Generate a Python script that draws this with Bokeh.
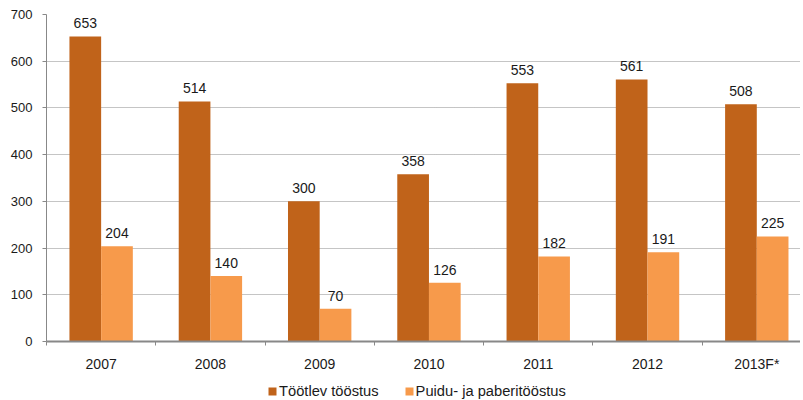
import numpy as np
from bokeh.plotting import figure
from bokeh.layouts import column
from bokeh.models import (ColumnDataSource, Range1d, FixedTicker, Legend, LegendItem)
from bokeh.transform import dodge
from bokeh.core.properties import value
from bokeh.embed import file_html
from bokeh.resources import INLINE

years = ["2007", "2008", "2009", "2010", "2011", "2012", "2013F*"]
tootlev = [653, 514, 300, 358, 553, 561, 508]
puidu = [204, 140, 70, 126, 182, 191, 225]
series_names = ["Töötlev tööstus", "Puidu- ja paberitööstus"]
y_ticks = [0, 100, 200, 300, 400, 500, 600, 700]

FONT = "Liberation Sans"
DARK = "#C0631A"
LIGHT = "#F79A4B"
TXT = "#1a1a1a"

xpos = np.arange(len(years)) + 0.5
src = ColumnDataSource(dict(
    x=xpos, year=years,
    a=tootlev, b=puidu,
    at=[str(v) for v in tootlev], bt=[str(v) for v in puidu],
))

p = figure(width=800, height=374, output_backend="svg", toolbar_location=None,
           x_range=Range1d(0, 6.9), y_range=Range1d(0, 700),
           min_border_left=46, min_border_right=0, min_border_top=14,
           min_border_bottom=33)
p.outline_line_color = None
p.background_fill_color = "white"

bw = 0.29
off = 0.145
r1 = p.vbar(x=dodge("x", -off), top="a", width=bw, source=src,
            fill_color=DARK, line_color=None)
r2 = p.vbar(x=dodge("x", off), top="b", width=bw, source=src,
            fill_color=LIGHT, line_color=None)

p.text(x=dodge("x", -off), y="a", text="at", source=src,
       text_align="center", text_baseline="bottom", y_offset=-8,
       text_font=value(FONT), text_font_size="14px", text_color=TXT)
p.text(x=dodge("x", off), y="b", text="bt", source=src,
       text_align="center", text_baseline="bottom", y_offset=-8,
       text_font=value(FONT), text_font_size="14px", text_color=TXT)

# x axis
xa = p.xaxis[0]
xa.ticker = FixedTicker(ticks=list(xpos), minor_ticks=list(range(len(years) + 1)))
xa.major_label_overrides = {float(x): y for x, y in zip(xpos, years)}
xa.major_tick_line_color = None
xa.major_tick_out = 0
xa.major_tick_in = 0
xa.minor_tick_out = 4
xa.minor_tick_in = 0
xa.minor_tick_line_color = "#888888"
xa.axis_line_color = "#888888"
xa.axis_line_width = 2
xa.major_label_standoff = 10
xa.major_label_text_font = FONT
xa.major_label_text_font_size = "14px"
xa.major_label_text_color = TXT

# y axis
ya = p.yaxis[0]
ya.ticker = FixedTicker(ticks=y_ticks)
ya.axis_line_color = "#888888"
ya.major_tick_line_color = "#888888"
ya.major_tick_out = 4
ya.major_tick_in = 0
ya.minor_tick_line_color = None
ya.major_label_standoff = 10
ya.major_label_text_font = FONT
ya.major_label_text_font_size = "13px"
ya.major_label_text_color = TXT

p.xgrid.grid_line_color = None
p.ygrid.ticker = FixedTicker(ticks=y_ticks[1:])
p.ygrid.grid_line_color = "#8a8a8a"
p.ygrid.grid_line_dash = "1 1"
p.ygrid.grid_line_width = 1

# legend in a separate strip below the chart
lg = figure(width=800, height=25, output_backend="svg", toolbar_location=None,
            x_range=Range1d(0, 1), y_range=Range1d(0, 1),
            x_axis_location=None, y_axis_location=None,
            min_border_left=0, min_border_right=0, min_border_top=0,
            min_border_bottom=0)
lg.grid.visible = False
lg.outline_line_color = None
swatch = ColumnDataSource(dict(x=[-50], top=[-50], bottom=[-51]))
lr1 = lg.vbar(x="x", top="top", bottom="bottom", width=0.01, source=swatch,
              fill_color=DARK, line_color=None)
lr2 = lg.vbar(x="x", top="top", bottom="bottom", width=0.01, source=swatch,
              fill_color=LIGHT, line_color=None)

legend = Legend(items=[LegendItem(label=series_names[0], renderers=[lr1]),
                       LegendItem(label=series_names[1], renderers=[lr2])],
                orientation="horizontal", location=(221, 0),
                glyph_width=10, glyph_height=10, label_standoff=2, spacing=25,
                padding=0, margin=0, border_line_color=None,
                background_fill_alpha=0,
                label_text_font=FONT, label_text_font_size="14.7px",
                label_text_color=TXT)
lg.add_layout(legend, "center")

open("out.html", "w").write(file_html(column(p, lg, spacing=0), INLINE))
